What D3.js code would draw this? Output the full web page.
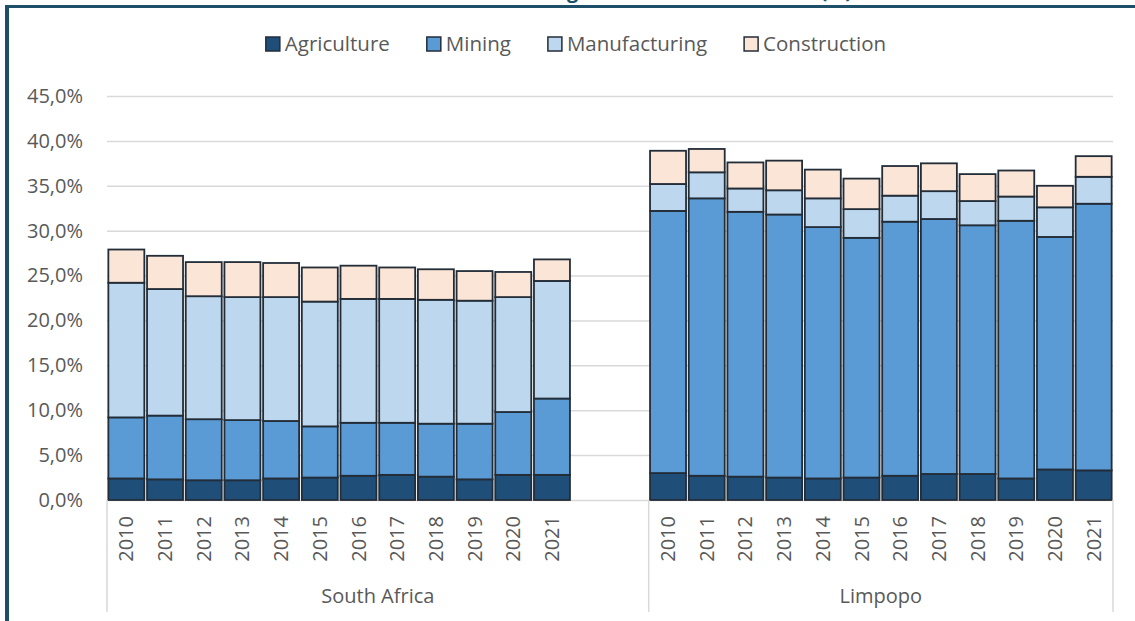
<!DOCTYPE html>
<html>
<head>
<meta charset="utf-8">
<title>Stacked bars</title>
<script src="https://d3js.org/d3.v7.min.js"></script>
<style>
  body { margin: 0; background: #fff; }
  text { font-family: "Open Sans", sans-serif; }
</style>
</head>
<body>
<script>
// data, shares in %
var regions = ["South Africa", "Limpopo"];
var years = ["2010", "2011", "2012", "2013", "2014", "2015", "2016", "2017", "2018", "2019", "2020", "2021"];
var sectors = ["Agriculture", "Mining", "Manufacturing", "Construction"];
var yTicks = [0, 5, 10, 15, 20, 25, 30, 35, 40, 45];

var saAgriculture   = [2.4, 2.3, 2.2, 2.2, 2.4, 2.5, 2.7, 2.8, 2.6, 2.3, 2.8, 2.8];
var saMining        = [6.8, 7.1, 6.8, 6.7, 6.4, 5.7, 5.9, 5.8, 5.9, 6.2, 7.0, 8.5];
var saManufacturing = [15.0, 14.1, 13.7, 13.7, 13.8, 13.9, 13.8, 13.8, 13.8, 13.7, 12.8, 13.1];
var saConstruction  = [3.7, 3.7, 3.8, 3.9, 3.8, 3.8, 3.7, 3.5, 3.4, 3.3, 2.8, 2.4];

var lpAgriculture   = [3.0, 2.7, 2.6, 2.5, 2.4, 2.5, 2.7, 2.9, 2.9, 2.4, 3.4, 3.3];
var lpMining        = [29.2, 30.9, 29.5, 29.3, 28.0, 26.7, 28.3, 28.4, 27.7, 28.7, 25.9, 29.7];
var lpManufacturing = [3.0, 2.9, 2.6, 2.7, 3.2, 3.2, 2.9, 3.1, 2.7, 2.7, 3.3, 3.0];
var lpConstruction  = [3.7, 2.6, 2.9, 3.3, 3.2, 3.4, 3.3, 3.1, 3.0, 2.9, 2.4, 2.3];

var colors = ["#1f4e79", "#5b9bd5", "#bdd7ee", "#fbe5d6"];

// build rows
var rows = [];
years.forEach(function(yr, i) {
    rows.push({key: "SA-" + yr, region: regions[0], year: yr,
        Agriculture: saAgriculture[i], Mining: saMining[i],
        Manufacturing: saManufacturing[i], Construction: saConstruction[i]});
});
years.forEach(function(yr, i) {
    rows.push({key: "LP-" + yr, region: regions[1], year: yr,
        Agriculture: lpAgriculture[i], Mining: lpMining[i],
        Manufacturing: lpManufacturing[i], Construction: lpConstruction[i]});
});

// South Africa block carries two empty slots after 2021
var domain = years.map(function(y) { return "SA-" + y; })
    .concat(["SA-gap1", "SA-gap2"])
    .concat(years.map(function(y) { return "LP-" + y; }));

var width = 1135, height = 621;
var plotLeft = 107, plotRight = 1113, plotTop = 96, plotBottom = 500;

var svg = d3.select("body").append("svg")
    .attr("width", width)
    .attr("height", height);

var x = d3.scaleBand()
    .domain(domain)
    .range([plotLeft, plotRight])
    .paddingInner(0.07)
    .paddingOuter(0.035);

var y = d3.scaleLinear()
    .domain([0, 45])
    .range([plotBottom, plotTop]);

var color = d3.scaleOrdinal().domain(sectors).range(colors);

var fmt = d3.formatLocale({decimal: ",", thousands: ".", grouping: [3], currency: ["", ""]}).format(".1f");

// frame
svg.append("line")
    .attr("x1", 5).attr("x2", width).attr("y1", 6.5).attr("y2", 6.5)
    .style("stroke", "#1d5068").style("stroke-width", 3);
svg.append("line")
    .attr("x1", 7).attr("x2", 7).attr("y1", 5).attr("y2", height)
    .style("stroke", "#1d5068").style("stroke-width", 4);

// title, mostly cut off at the top
svg.append("text")
    .attr("x", 852).attr("y", -2)
    .attr("text-anchor", "end")
    .style("font-size", "20px").style("font-weight", "bold")
    .style("fill", "#1d5068")
    .text("Percentage share of the total GVA (%)");

// grid
var yAxis = d3.axisLeft(y)
    .tickValues(yTicks)
    .tickSize(-(plotRight - plotLeft))
    .tickFormat(function(d) { return fmt(d) + "%"; });

var gy = svg.append("g")
    .attr("transform", "translate(" + plotLeft + ",0)")
    .call(yAxis);
gy.select(".domain").remove();
gy.selectAll(".tick line").style("stroke", "#d9d9d9").style("stroke-width", 1.5);
gy.selectAll(".tick text")
    .attr("x", -24)
    .style("font-size", "20px")
    .style("fill", "#595959")
    .style("font-family", "'Open Sans', sans-serif");

// stacked bars
var stack = d3.stack().keys(sectors);
var layers = stack(rows);

svg.selectAll(".layer")
    .data(layers)
    .enter()
    .append("g")
    .attr("class", "layer")
    .attr("fill", function(d) { return color(d.key); })
    .selectAll("rect")
    .data(function(d) { return d; })
    .enter()
    .append("rect")
    .attr("x", function(d) { return x(d.data.key); })
    .attr("width", x.bandwidth())
    .attr("y", function(d) { return y(d[1]); })
    .attr("height", function(d) { return y(d[0]) - y(d[1]); })
    .style("stroke", "#232d38")
    .style("stroke-width", 1.8);

// category axis: year labels
var half = (x.step() - x.bandwidth()) / 2;
svg.selectAll(".year")
    .data(rows)
    .enter()
    .append("text")
    .attr("class", "year")
    .attr("transform", function(d) {
        return "translate(" + (x(d.key) + x.bandwidth() / 2) + ",516) rotate(-90)";
    })
    .attr("text-anchor", "end")
    .attr("dy", "0.35em")
    .style("font-size", "20px")
    .style("fill", "#595959")
    .text(function(d) { return d.year; });

// group separators and labels
var bounds = [
    {name: regions[0], x0: x("SA-2010") - half, x1: x("SA-gap2") + x.bandwidth() + half},
    {name: regions[1], x0: x("LP-2010") - half, x1: x("LP-2021") + x.bandwidth() + half}
];
var seps = [bounds[0].x0, bounds[0].x1, bounds[1].x1];
svg.selectAll(".sep")
    .data(seps)
    .enter()
    .append("line")
    .attr("x1", function(d) { return d; })
    .attr("x2", function(d) { return d; })
    .attr("y1", plotBottom)
    .attr("y2", 612)
    .style("stroke", "#d9d9d9")
    .style("stroke-width", 1.5);

svg.selectAll(".grp")
    .data(bounds)
    .enter()
    .append("text")
    .attr("x", function(d) { return (d.x0 + d.x1) / 2; })
    .attr("y", 603)
    .attr("text-anchor", "middle")
    .style("font-size", "20px")
    .style("fill", "#595959")
    .text(function(d) { return d.name; });

// legend
var legend = svg.append("g");
var lx = 0;
sectors.forEach(function(s, i) {
    var g = legend.append("g").attr("transform", "translate(" + lx + ",0)");
    g.append("rect")
        .attr("x", 0).attr("y", 37).attr("width", 14).attr("height", 14)
        .attr("fill", color(s))
        .style("stroke", "#232d38").style("stroke-width", 1.5);
    var t = g.append("text")
        .attr("x", 19).attr("y", 51)
        .style("font-size", "20.5px")
        .style("fill", "#595959")
        .text(s);
    lx += 19 + t.node().getComputedTextLength() + 37;
});
var lw = lx - 37;
legend.attr("transform", "translate(" + (576 - lw / 2) + ",0)");
</script>
</body>
</html>
